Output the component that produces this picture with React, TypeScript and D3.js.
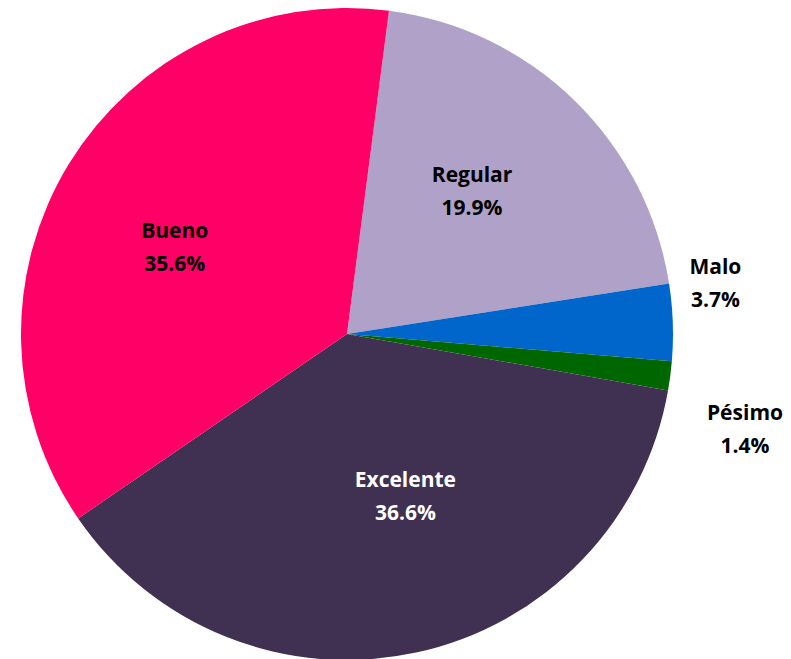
import React from 'react';
import * as d3 from 'd3';

const categories = ['Regular', 'Malo', 'Pésimo', 'Excelente', 'Bueno'];
const values = [19.9, 3.7, 1.4, 36.6, 35.6];
const colors = ['#B0A1C8', '#0066CC', '#006600', '#403152', '#FF0066'];
const textColors = ['#000', '#000', '#000', '#fff', '#000'];

// label placement: [radius factor, angle shift in degrees] from slice middle
const labelPlace: [number, number][] = [
  [0.583, -3.1],
  [1.141, -5.9],
  [1.255, 6],
  [0.528, -7.6],
  [0.592, -4.7],
];

const width = 791;
const height = 659;
const cx = 347;
const cy = 334;
const radius = 326;
const startDeg = 7.4;

const App = () => {
  const pie = d3
    .pie<number>()
    .sort(null)
    .value(d => d)
    .startAngle((startDeg * Math.PI) / 180)
    .endAngle((startDeg * Math.PI) / 180 + 2 * Math.PI);
  const arcs = pie(values);
  const arc = d3.arc<d3.PieArcDatum<number>>().innerRadius(0).outerRadius(radius);

  return (
    <svg width={width} height={height} style={{ position: 'absolute', left: 0, top: 0 }}>
      <rect width={width} height={height} fill="#fff" />
      <g transform={`translate(${cx},${cy})`}>
        {arcs.map((a, i) => (
          <path key={categories[i]} d={arc(a) || ''} fill={colors[i]} />
        ))}
        {arcs.map((a, i) => {
          const [rf, shift] = labelPlace[i];
          const ang = (a.startAngle + a.endAngle) / 2 + (shift * Math.PI) / 180;
          const x = Math.sin(ang) * radius * rf;
          const y = -Math.cos(ang) * radius * rf;
          return (
            <text
              key={'l' + categories[i]}
              x={x}
              y={y}
              textAnchor="middle"
              fill={textColors[i]}
              style={{ fontFamily: '"Open Sans", Lato, sans-serif', fontWeight: 700, fontSize: 21 }}
            >
              <tspan x={x} dy={-9}>{categories[i]}</tspan>
              <tspan x={x} dy={33}>{values[i].toFixed(1)}%</tspan>
            </text>
          );
        })}
      </g>
    </svg>
  );
};

export default App;
